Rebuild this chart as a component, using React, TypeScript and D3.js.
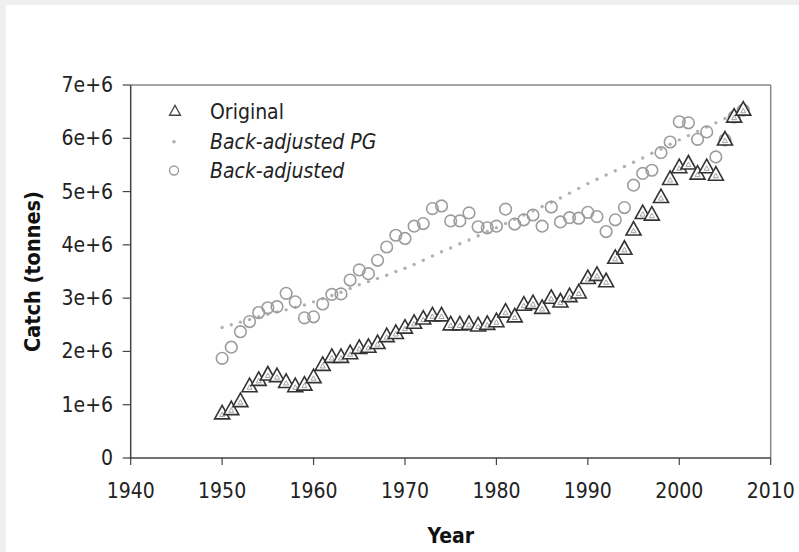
import React from "react";
import * as d3 from "d3";

const years: number[] = d3.range(1950, 2008);

// Original catch (million tonnes), 1950-2007
const original: number[] = [
  0.83, 0.91, 1.06, 1.34, 1.46, 1.56, 1.53, 1.42, 1.34, 1.37,
  1.51, 1.74, 1.89, 1.89, 1.96, 2.06, 2.08, 2.15, 2.28, 2.34,
  2.44, 2.53, 2.61, 2.67, 2.67, 2.50, 2.50, 2.51, 2.48, 2.51,
  2.56, 2.74, 2.65, 2.87, 2.90, 2.81, 3.00, 2.93, 3.03, 3.10,
  3.37, 3.43, 3.31, 3.75, 3.92, 4.28, 4.59, 4.56, 4.89, 5.23,
  5.45, 5.52, 5.33, 5.45, 5.31, 5.97, 6.40, 6.53,
];

// Back-adjusted PG (million tonnes)
const backAdjPG: number[] = [
  2.45, 2.50, 2.55, 2.60, 2.65, 2.70, 2.74, 2.78, 2.83, 2.87,
  2.93, 2.99, 3.05, 3.11, 3.18, 3.25, 3.31, 3.37, 3.43, 3.50,
  3.56, 3.63, 3.71, 3.79, 3.87, 3.94, 4.02, 4.09, 4.17, 4.25,
  4.32, 4.40, 4.48, 4.56, 4.64, 4.72, 4.80, 4.88, 4.97, 5.06,
  5.15, 5.23, 5.31, 5.39, 5.47, 5.55, 5.63, 5.72, 5.80, 5.89,
  5.97, 6.05, 6.13, 6.21, 6.29, 6.37, 6.45, 6.53,
];

// Back-adjusted (million tonnes)
const backAdj: number[] = [
  1.87, 2.08, 2.37, 2.56, 2.73, 2.82, 2.84, 3.09, 2.93, 2.63,
  2.65, 2.89, 3.07, 3.08, 3.34, 3.53, 3.46, 3.71, 3.96, 4.18,
  4.12, 4.35, 4.40, 4.68, 4.73, 4.45, 4.45, 4.60, 4.34, 4.32,
  4.35, 4.67, 4.39, 4.47, 4.56, 4.35, 4.71, 4.43, 4.51, 4.50,
  4.61, 4.53, 4.25, 4.47, 4.70, 5.12, 5.34, 5.40, 5.73, 5.93,
  6.31, 6.29, 5.98, 6.12, 5.65, 5.97, 6.40, 6.53,
];

const xTicks: number[] = [1940, 1950, 1960, 1970, 1980, 1990, 2000, 2010];
const yTicks: number[] = [0, 1e6, 2e6, 3e6, 4e6, 5e6, 6e6, 7e6];
const yTickLabels: string[] = ["0", "1e+6", "2e+6", "3e+6", "4e+6", "5e+6", "6e+6", "7e+6"];

const legendLabels: string[] = ["Original", "Back-adjusted PG", "Back-adjusted"];

const FONT = "'DejaVu Sans Condensed', 'DejaVu Sans', Tahoma, sans-serif";

function triPath(cx: number, cy: number, s: number): string {
  const h = s * 0.9;
  return `M${cx},${cy - h * 0.62}L${cx + s / 2},${cy + h * 0.38}L${cx - s / 2},${cy + h * 0.38}Z`;
}

function Triangle({ cx, cy }: { cx: number; cy: number }) {
  return (
    <g>
      <path d={triPath(cx, cy, 15)} fill="#fff" stroke="#333" strokeWidth={1.6} strokeLinejoin="miter" />
      <path d={triPath(cx, cy + 1, 5)} fill="none" stroke="#999" strokeWidth={0.9} />
    </g>
  );
}

export default function App() {
  const W = 799;
  const H = 552;
  const x = d3.scaleLinear().domain([1940, 2010]).range([130.7, 770.7]);
  const y = d3.scaleLinear().domain([0, 7e6]).range([458, 85]);
  const [x0, x1] = x.range();
  const [y0, y1] = y.range();

  return (
    <svg
      width={W}
      height={H}
      style={{ position: "absolute", left: 0, top: 0, display: "block" }}
      fontFamily={FONT}
    >
      <rect x={0} y={0} width={W} height={H} fill="#efefef" />
      <rect x={6} y={5} width={W - 6} height={H - 5} fill="#fff" />

      {/* frame top/right */}
      <line x1={x0} x2={x1} y1={y1} y2={y1} stroke="#888" strokeWidth={1.5} />
      <line x1={x1} x2={x1} y1={y1} y2={y0} stroke="#888" strokeWidth={1.5} />

      {/* PG dots */}
      {years.map((yr, i) => (
        <circle key={"pg" + yr} cx={x(yr)} cy={y(backAdjPG[i] * 1e6)} r={1.7} fill="#b0b0b0" />
      ))}

      {/* Back-adjusted circles */}
      {years.map((yr, i) => (
        <circle
          key={"ba" + yr}
          cx={x(yr)}
          cy={y(backAdj[i] * 1e6)}
          r={5.8}
          fill="none"
          stroke="#9c9c9c"
          strokeWidth={1.6}
        />
      ))}

      {/* Original triangles */}
      {years.map((yr, i) => (
        <Triangle key={"or" + yr} cx={x(yr)} cy={y(original[i] * 1e6)} />
      ))}

      {/* axes */}
      <line x1={x0} x2={x0} y1={y1} y2={y0 + 1} stroke="#444" strokeWidth={1.5} />
      <line x1={x0 - 1} x2={x1} y1={y0} y2={y0} stroke="#444" strokeWidth={1.5} />

      {yTicks.map((t, i) => (
        <g key={"yt" + t}>
          <line x1={x0 - 8} x2={x0} y1={y(t)} y2={y(t)} stroke="#444" strokeWidth={1.2} />
          <text
            x={113}
            y={y(t)}
            textAnchor="end"
            dominantBaseline="central"
            fontSize={21}
            fill="#222"
          >
            {yTickLabels[i]}
          </text>
        </g>
      ))}

      {xTicks.map((t) => (
        <g key={"xt" + t}>
          <line x1={x(t)} x2={x(t)} y1={y0} y2={y0 + 7} stroke="#444" strokeWidth={1.2} />
          <text x={x(t)} y={497.5} textAnchor="middle" fontSize={21} fill="#222">
            {t}
          </text>
        </g>
      ))}

      <text x={x((1940 + 2010) / 2)} y={543} textAnchor="middle" fontSize={21} fontWeight="bold" fill="#111">
        Year
      </text>
      <text
        transform={`translate(40, ${(y0 + y1) / 2}) rotate(-90)`}
        textAnchor="middle"
        fontSize={21.5}
        fontWeight="bold"
        fill="#111"
      >
        Catch (tonnes)
      </text>

      {/* legend */}
      <g>
        <path d={triPath(175, 111.5, 11)} fill="#fff" stroke="#444" strokeWidth={1.3} />
        <circle cx={174} cy={141.7} r={1.8} fill="#b0b0b0" />
        <circle cx={174} cy={170.5} r={4.5} fill="none" stroke="#9c9c9c" strokeWidth={1.4} />
        <text x={210} y={111.5} dominantBaseline="central" fontSize={21} fill="#222">
          {legendLabels[0]}
        </text>
        <text x={210} y={142} dominantBaseline="central" fontSize={21} fontStyle="italic" fill="#222">
          {legendLabels[1]}
        </text>
        <text x={210} y={171} dominantBaseline="central" fontSize={21} fontStyle="italic" fill="#222">
          {legendLabels[2]}
        </text>
      </g>
    </svg>
  );
}
